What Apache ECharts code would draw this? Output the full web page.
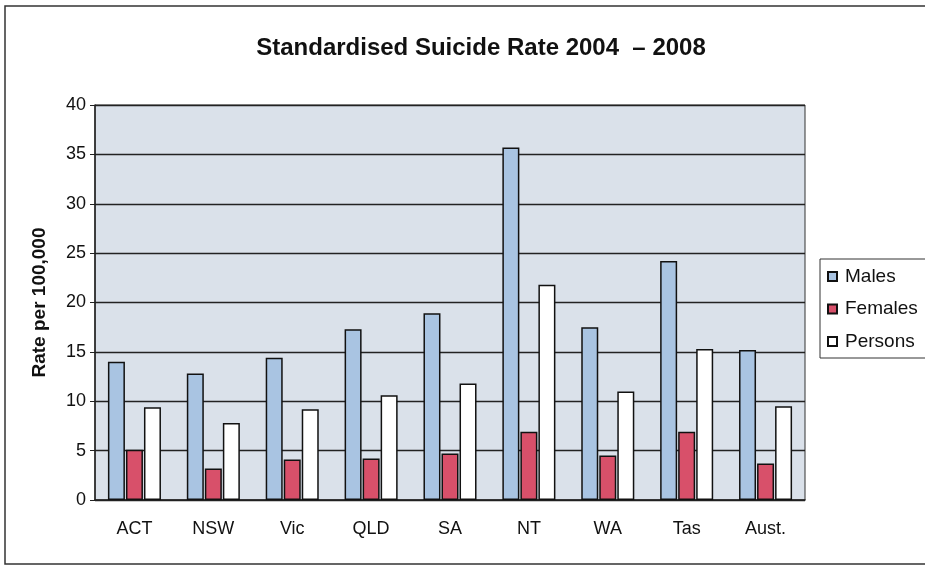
<!DOCTYPE html>
<html>
<head>
<meta charset="utf-8">
<script src="https://cdn.jsdelivr.net/npm/echarts@6/dist/echarts.min.js"></script>
<style>
  html, body { margin: 0; padding: 0; background: #fff; }
  #main { width: 925px; height: 570px; }
</style>
</head>
<body>
<div id="main"></div>
<script>
const categories = ["ACT", "NSW", "Vic", "QLD", "SA", "NT", "WA", "Tas", "Aust."];
const males = [14.0, 12.8, 14.4, 17.3, 18.9, 35.7, 17.5, 24.2, 15.2];
const females = [5.1, 3.2, 4.1, 4.2, 4.7, 6.9, 4.5, 6.9, 3.7];
const persons = [9.4, 7.8, 9.2, 10.6, 11.8, 21.8, 11.0, 15.3, 9.5];
const yTicks = [0, 5, 10, 15, 20, 25, 30, 35, 40];

const chartDom = document.getElementById("main");
const myChart = echarts.init(chartDom);

const barStyle = (color) => ({
  color: color,
  borderColor: "#111",
  borderWidth: 1.5,
});

const option = {
  animation: false,
  textStyle: { fontFamily: "Liberation Sans, Arial, sans-serif" },
  title: {
    text: "Standardised Suicide Rate 2004  \u2013 2008",
    left: 476,
    top: 31,
    textAlign: "center",
    textStyle: { fontSize: 24, fontWeight: "bold", color: "#111" },
  },
  graphic: [
    {
      type: "rect",
      shape: { x: 5, y: 6, width: 940, height: 558 },
      style: { fill: "none", stroke: "#333", lineWidth: 1.5 },
      silent: true,
    },
  ],
  legend: {
    orient: "vertical",
    left: 820,
    top: 259,
    icon: "rect",
    itemWidth: 9,
    itemHeight: 9,
    itemGap: 13.5,
    padding: [8, 10, 7, 7],
    borderColor: "#333",
    borderWidth: 1,
    textStyle: { fontSize: 19, color: "#111", padding: [0, 0, 0, 3] },
    data: ["Males", "Females", "Persons"],
  },
  grid: {
    left: 95,
    right: 120,
    top: 105,
    bottom: 70,
    show: true,
    backgroundColor: "#dae1ea",
    borderColor: "#333",
    borderWidth: 1,
  },
  xAxis: {
    type: "category",
    data: categories,
    axisLine: { lineStyle: { color: "#222", width: 1.5 } },
    axisTick: { length: 5, lineStyle: { color: "#222" } },
    axisLabel: { fontSize: 18, color: "#111", margin: 20 },
  },
  yAxis: {
    type: "value",
    min: yTicks[0],
    max: yTicks[yTicks.length - 1],
    interval: 5,
    name: "Rate per 100,000",
    nameLocation: "middle",
    nameGap: 46,
    nameTextStyle: { fontSize: 19, fontWeight: "bold", color: "#111" },
    axisLine: { show: true, lineStyle: { color: "#222", width: 1.5 } },
    axisTick: { show: true, length: 5, lineStyle: { color: "#222" } },
    axisLabel: { fontSize: 18, color: "#111", margin: 9 },
    splitLine: { lineStyle: { color: "#222", width: 1.3 } },
  },
  series: [
    {
      name: "Males",
      type: "bar",
      barWidth: 17,
      barGap: "6%",
      data: males,
      itemStyle: barStyle("#a9c4e2"),
    },
    {
      name: "Females",
      type: "bar",
      barWidth: 17,
      data: females,
      itemStyle: barStyle("#d8506a"),
    },
    {
      name: "Persons",
      type: "bar",
      barWidth: 17,
      data: persons,
      itemStyle: barStyle("#ffffff"),
    },
  ],
};
myChart.setOption(option);
</script>
</body>
</html>
